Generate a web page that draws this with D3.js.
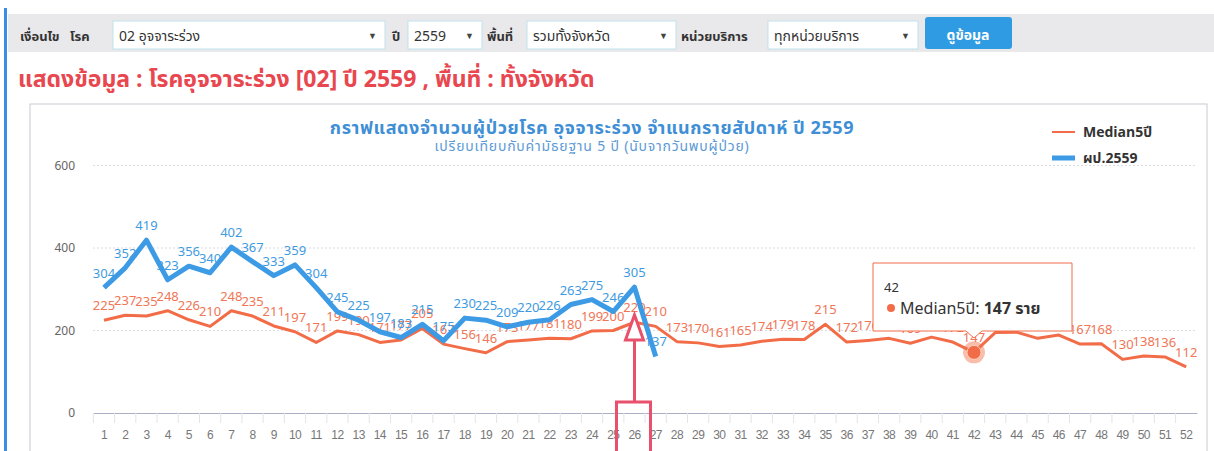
<!DOCTYPE html>
<html>
<head>
<meta charset="utf-8">
<script src="https://cdn.jsdelivr.net/npm/d3@7"></script>
<style>
  body { margin: 0; background: #fff; }
  svg { display: block; font-family: Tahoma, "Noto Sans Thai", "Noto Sans", "Open Sans", sans-serif; }
</style>
</head>
<body>
<svg id="svg1"></svg>
<script>
var width = 1214, height = 451;

// week categories (x tick labels)
var weeks = ["1","2","3","4","5","6","7","8","9","10","11","12","13","14","15","16","17","18","19","20",
  "21","22","23","24","25","26","27","28","29","30","31","32","33","34","35","36","37","38","39","40",
  "41","42","43","44","45","46","47","48","49","50","51","52"];

// Median 5 years
var median5 = [225,237,235,248,226,210,248,235,211,197,171,199,190,171,177,205,167,156,146,173,
  177,181,180,199,200,220,210,173,170,161,165,174,179,178,215,172,176,181,169,184,
  172,147,195,196,181,189,167,168,130,138,136,112];

// patients 2559 (weeks 1-27)
var patients2559 = [304,352,419,323,356,340,402,367,333,359,304,245,225,197,183,215,175,230,225,209,
  220,226,263,275,246,305,137];

var yTicks = [0, 200, 400, 600];

var orange = '#f26c48', blue = '#3d9be6';

var svg = d3.select('#svg1').attr('width', width).attr('height', height);

// left accent
svg.append('rect').attr('x', 4).attr('y', 8).attr('width', 3).attr('height', height).attr('fill', '#3a8ee6');

// ---- filter bar ----
svg.append('rect').attr('x', 8).attr('y', 14).attr('width', width - 8).attr('height', 38).attr('fill', '#e9e8ea');

function label(x, txt, bold) {
  svg.append('text').attr('x', x).attr('y', 41)
    .attr('font-size', 13).attr('font-weight', bold ? 'bold' : 'normal')
    .attr('fill', '#333').text(txt);
}
function select(x, w, txt) {
  svg.append('rect').attr('x', x).attr('y', 21).attr('width', w).attr('height', 28)
    .attr('fill', '#fff').attr('stroke', '#bfe3ec');
  svg.append('text').attr('x', x + 6).attr('y', 41).attr('font-size', 14).attr('fill', '#333').text(txt);
  svg.append('text').attr('x', x + w - 8).attr('y', 39).attr('text-anchor', 'end')
    .attr('font-size', 9).attr('fill', '#444').text('▼');
}
label(20, 'เงื่อนไข', true);
label(70, 'โรค', true);
select(113, 272, '02 อุจจาระร่วง');
label(392, 'ปี', true);
select(408, 74, '2559');
label(487, 'พื้นที่', true);
select(527, 149, 'รวมทั้งจังหวัด');
label(681, 'หน่วยบริการ', true);
select(768, 150, 'ทุกหน่วยบริการ');
svg.append('rect').attr('x', 925).attr('y', 17).attr('width', 87).attr('height', 32).attr('rx', 3)
  .attr('fill', '#2f9be2');
svg.append('text').attr('x', 968).attr('y', 40).attr('text-anchor', 'middle')
  .attr('font-size', 14).attr('font-weight', 'bold').attr('fill', '#fff').text('ดูข้อมูล');

// heading
svg.append('text').attr('x', 18).attr('y', 87)
  .attr('font-size', 23).attr('font-weight', 'bold').attr('fill', '#e8474f')
  .text('แสดงข้อมูล : โรคอุจจาระร่วง [02] ปี 2559 , พื้นที่ : ทั้งจังหวัด');

// chart container
svg.append('rect').attr('x', 30).attr('y', 104).attr('width', 1177).attr('height', 400)
  .attr('fill', '#fff').attr('stroke', '#c9c9d2');

// titles
svg.append('text').attr('x', 592).attr('y', 134).attr('text-anchor', 'middle')
  .attr('font-size', 18).attr('font-weight', 'bold').attr('fill', '#3f8fd6').attr('letter-spacing', 0.6)
  .text('กราฟแสดงจำนวนผู้ป่วยโรค อุจจาระร่วง จำแนกรายสัปดาห์ ปี 2559');
svg.append('text').attr('x', 592).attr('y', 151).attr('text-anchor', 'middle')
  .attr('font-size', 14).attr('fill', '#5c9ad6').attr('letter-spacing', 0.8)
  .text('เปรียบเทียบกับค่ามัธยฐาน 5 ปี (นับจากวันพบผู้ป่วย)');

// ---- scales ----
var x = d3.scaleBand().domain(weeks).range([93.4, 1196.8]).padding(0);
var cx = function(w) { return x(w) + x.bandwidth() / 2; };
var y = d3.scaleLinear().domain([0, 600]).range([413, 165.5]);

// grid
svg.append('g').selectAll('line').data(yTicks.filter(function(d) { return d > 0; })).enter()
  .append('line')
  .attr('x1', 93).attr('x2', 1197)
  .attr('y1', function(d) { return y(d); }).attr('y2', function(d) { return y(d); })
  .attr('stroke', '#dcdce4').attr('stroke-dasharray', '2,2');

// y labels
svg.append('g').selectAll('text').data(yTicks).enter().append('text')
  .attr('x', 75).attr('y', function(d) { return y(d) + 4; })
  .attr('text-anchor', 'end').attr('font-size', 12).attr('fill', '#666')
  .text(function(d) { return d; });

// x axis
var xAxis = svg.append('g').attr('transform', 'translate(0,413)')
  .call(d3.axisBottom(x).tickSize(0).tickPadding(17));
xAxis.select('.domain').attr('stroke', '#a9b0c6');
xAxis.selectAll('text').attr('font-size', 12).attr('fill', '#777').attr('font-family', null)
  .attr('letter-spacing', -0.6);
xAxis.selectAll('.tickline').data(weeks).enter().append('line')
  .attr('x1', function(d) { return x(d); }).attr('x2', function(d) { return x(d); })
  .attr('y1', 0).attr('y2', 10).attr('stroke', '#e3e3ea');

// ---- series ----
var line = d3.line()
  .x(function(d, i) { return cx(weeks[i]); })
  .y(function(d) { return y(d); });

svg.append('path').datum(median5).attr('d', line)
  .attr('fill', 'none').attr('stroke', orange).attr('stroke-width', 3).attr('stroke-linejoin', 'round');

svg.append('g').selectAll('text').data(median5).enter().append('text')
  .attr('x', function(d, i) { return cx(weeks[i]); })
  .attr('y', function(d) { return y(d) - 10; })
  .attr('text-anchor', 'middle').attr('font-size', 13).attr('fill', '#f07656')
  .text(function(d) { return d; });

svg.append('path').datum(patients2559).attr('d', line)
  .attr('fill', 'none').attr('stroke', blue).attr('stroke-width', 5).attr('stroke-linejoin', 'round');

svg.append('g').selectAll('text').data(patients2559).enter().append('text')
  .attr('x', function(d, i) { return cx(weeks[i]); })
  .attr('y', function(d) { return y(d) - 10; })
  .attr('text-anchor', 'middle').attr('font-size', 13).attr('fill', '#3f9be0')
  .text(function(d) { return d; });

// legend
svg.append('line').attr('x1', 1052).attr('x2', 1075).attr('y1', 132).attr('y2', 132)
  .attr('stroke', orange).attr('stroke-width', 2);
svg.append('text').attr('x', 1083).attr('y', 137).attr('font-size', 14).attr('font-weight', 'bold')
  .attr('fill', '#333').text('Median5ปี');
svg.append('line').attr('x1', 1052).attr('x2', 1075).attr('y1', 158).attr('y2', 158)
  .attr('stroke', blue).attr('stroke-width', 5);
svg.append('text').attr('x', 1083).attr('y', 163).attr('font-size', 14).attr('font-weight', 'bold')
  .attr('fill', '#333').text('ผป.2559');

// hover marker week 42
var hw = '42', hv = median5[41];
svg.append('circle').attr('cx', cx(hw)).attr('cy', y(hv)).attr('r', 11).attr('fill', orange).attr('opacity', 0.45);
svg.append('circle').attr('cx', cx(hw)).attr('cy', y(hv)).attr('r', 7).attr('fill', orange)
  .attr('stroke', '#fbd0b8').attr('stroke-width', 1);

// arrow annotation at week 26
var ax = cx('26');
var arrow = svg.append('g').attr('stroke', '#e8506c').attr('stroke-width', 3).attr('fill', 'none');
arrow.append('path').attr('d', 'M' + (ax - 9) + ',340 L' + ax + ',315 L' + (ax + 9) + ',340 Z').attr('fill', '#fff');
arrow.append('line').attr('x1', ax).attr('x2', ax).attr('y1', 340).attr('y2', 402);
arrow.append('rect').attr('x', ax - 18).attr('y', 402).attr('width', 34).attr('height', 60);

// tooltip
var tx = cx(hw);
var tip = svg.append('g');
tip.append('path')
  .attr('d', 'M873,263 H1072 V331 H' + (tx + 8) + ' L' + tx + ',338 L' + (tx - 8) + ',331 H873 Z')
  .attr('fill', '#fff').attr('stroke', orange).attr('stroke-width', 1);
tip.append('text').attr('x', 884).attr('y', 292).attr('font-size', 13).attr('fill', '#333').text(hw);
tip.append('circle').attr('cx', 891).attr('cy', 308).attr('r', 4).attr('fill', orange);
var tt = tip.append('text').attr('x', 900).attr('y', 314).attr('font-size', 16).attr('fill', '#333');
tt.append('tspan').text('Median5ปี: ');
tt.append('tspan').attr('font-weight', 'bold').text(hv + ' ราย');
</script>
</body>
</html>
